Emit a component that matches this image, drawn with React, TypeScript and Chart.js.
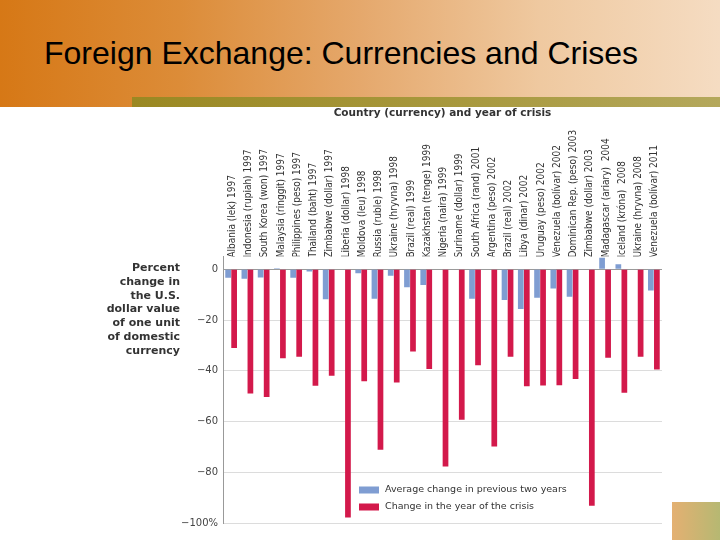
import { useEffect, useRef } from "react";
import { Chart, registerables } from "chart.js";

Chart.register(...registerables);

const categories = [
  "Albania (lek) 1997",
  "Indonesia (rupiah) 1997",
  "South Korea (won) 1997",
  "Malaysia (ringgit) 1997",
  "Philippines (peso) 1997",
  "Thailand (baht) 1997",
  "Zimbabwe (dollar) 1997",
  "Liberia (dollar) 1998",
  "Moldova (leu) 1998",
  "Russia (ruble) 1998",
  "Ukraine (hryvna) 1998",
  "Brazil (real) 1999",
  "Kazakhstan (tenge) 1999",
  "Nigeria (naira) 1999",
  "Suriname (dollar) 1999",
  "South Africa (rand) 2001",
  "Argentina (peso) 2002",
  "Brazil (real) 2002",
  "Libya (dinar) 2002",
  "Uruguay (peso) 2002",
  "Venezuela (bolívar) 2002",
  "Dominican Rep. (peso) 2003",
  "Zimbabwe (dollar) 2003",
  "Madagascar (ariary)  2004",
  "Iceland (króna)  2008",
  "Ukraine (hryvna) 2008",
  "Venezuela (bolívar) 2011",
];

const prevTwoYears: (number | null)[] = [
  -3.3, -3.7, -3.2, 0.4, -3.3, -0.9, -11.8, null, -1.6, -11.6, -2.5, -7.1, -6.2,
  null, null, -11.6, null, -12.1, -15.7, -11.2, -7.6, -10.8, null, 4.5, 2.0, null, -8.4,
];

const crisisYear: number[] = [
  -31, -49, -50.3, -35.1, -34.5, -45.9, -42, -97.8, -44.1, -71.1, -44.6, -32.4, -39.3,
  -77.7, -59.3, -37.8, -69.8, -34.5, -46.1, -45.8, -45.7, -43.2, -93.2, -34.9, -48.7, -34.5, -39.5,
];

const seriesLabels = ["Average change in previous two years", "Change in the year of the crisis"];
const seriesColors = ["#7f9dd2", "#d3194b"];

const yTickValues = [0, -20, -40, -60, -80, -100];
const yTickLabels = ["0", "\u221220", "\u221240", "\u221260", "\u221280", "\u2212100%"];

const yTitleLines = [
  "Percent",
  "change in",
  "the U.S.",
  "dollar value",
  "of one unit",
  "of domestic",
  "currency",
];

const xTitle = "Country (currency) and year of crisis";
const pageTitle = "Foreign Exchange: Currencies and Crises";

const legendPlugin = {
  id: "customLegend",
  afterDraw(chart: any) {
    const { ctx, chartArea } = chart;
    ctx.save();
    ctx.font = "9.5px 'DejaVu Sans', sans-serif";
    ctx.textBaseline = "middle";
    ctx.textAlign = "left";
    const x0 = chartArea.left + 136;
    const ys = [chartArea.top + 233.4, chartArea.top + 250.4];
    chart.data.datasets.forEach((ds: any, i: number) => {
      ctx.fillStyle = ds.backgroundColor;
      ctx.fillRect(x0, ys[i] - 3.5, 20, 7);
      ctx.fillStyle = "#333";
      ctx.fillText(ds.label, x0 + 26, ys[i]);
    });
    ctx.restore();
  },
};

export default function App() {
  const ref = useRef<HTMLCanvasElement | null>(null);

  useEffect(() => {
    document.body.style.margin = "0";
    if (!ref.current) return;
    const chart = new Chart(ref.current, {
      type: "bar",
      data: {
        labels: categories,
        datasets: [
          {
            label: seriesLabels[0],
            data: prevTwoYears,
            backgroundColor: seriesColors[0],
            barPercentage: 0.95,
            categoryPercentage: 0.74,
          },
          {
            label: seriesLabels[1],
            data: crisisYear,
            backgroundColor: seriesColors[1],
            barPercentage: 0.95,
            categoryPercentage: 0.74,
          },
        ],
      },
      options: {
        animation: false,
        responsive: false,
        maintainAspectRatio: false,
        layout: { padding: { left: 0, right: 58, top: 0, bottom: 17 } },
        plugins: {
          legend: { display: false },
          tooltip: { enabled: false },
        },
        scales: {
          x: {
            position: "top",
            grid: { display: false, drawTicks: false },
            border: { display: false },
            ticks: {
              autoSkip: false,
              minRotation: 90,
              maxRotation: 90,
              padding: -1,
              labelOffset: 13,
              color: "#333",
              font: { family: "'DejaVu Sans Condensed', 'Liberation Sans Narrow', sans-serif", size: 10 },
            },
            title: {
              display: true,
              text: xTitle,
              color: "#333",
              padding: { top: 0, bottom: 0 },
              font: { family: "'DejaVu Sans', sans-serif", size: 10.5, weight: "bold" },
            },
            afterFit(scale: any) {
              scale.height = 149.6;
            },
          },
          y: {
            min: -100,
            max: 5,
            grid: {
              drawTicks: false,
              color: (c: any) => (c.tick && c.tick.value === 0 ? "#9a9a9a" : "#dcdcdc"),
            },
            border: { display: true, color: "#999" },
            afterBuildTicks(scale: any) {
              scale.ticks = yTickValues.map((v) => ({ value: v }));
            },
            ticks: {
              padding: 5,
              color: "#444",
              font: { family: "'DejaVu Sans', sans-serif", size: 10 },
              callback: (v: any) => {
                const i = yTickValues.indexOf(Number(v));
                return i >= 0 ? yTickLabels[i] : "";
              },
            },
            afterFit(scale: any) {
              scale.width = 223;
            },
          },
        },
      },
      plugins: [legendPlugin],
    });
    return () => chart.destroy();
  }, []);

  return (
    <div
      style={{
        position: "absolute",
        left: 0,
        top: 0,
        width: 720,
        height: 540,
        background: "#fff",
        overflow: "hidden",
      }}
    >
      <div
        style={{
          position: "absolute",
          left: 0,
          top: 0,
          width: 720,
          height: 107,
          background:
            "linear-gradient(to right, #d67816 0%, #dc8c38 25%, #e5a86c 50%, #efc9a0 75%, #f5dcc2 100%)",
        }}
      />
      <div
        style={{
          position: "absolute",
          left: 132,
          top: 97,
          width: 588,
          height: 10,
          background: "linear-gradient(to right, #9a8822 0%, #a99a40 60%, #b4a85c 100%)",
        }}
      />
      <div
        style={{
          position: "absolute",
          left: 44,
          top: 35,
          fontFamily: "'Liberation Sans', Arial, sans-serif",
          fontSize: 32,
          lineHeight: "36px",
          color: "#000",
          whiteSpace: "nowrap",
        }}
      >
        {pageTitle}
      </div>
      <canvas
        ref={ref}
        width={720}
        height={433}
        style={{ position: "absolute", left: 0, top: 107, width: 720, height: 433 }}
      />
      <div
        style={{
          position: "absolute",
          left: 0,
          top: 261,
          width: 180,
          textAlign: "right",
          fontFamily: "'DejaVu Sans', sans-serif",
          fontWeight: "bold",
          fontSize: 11,
          lineHeight: "13.8px",
          color: "#333",
        }}
      >
        {yTitleLines.map((l, i) => (
          <div key={i}>{l}</div>
        ))}
      </div>
      <div
        style={{
          position: "absolute",
          left: 672,
          top: 502,
          width: 48,
          height: 38,
          background: "linear-gradient(to right, #e4b072 0%, #b6b872 100%)",
        }}
      />
    </div>
  );
}
